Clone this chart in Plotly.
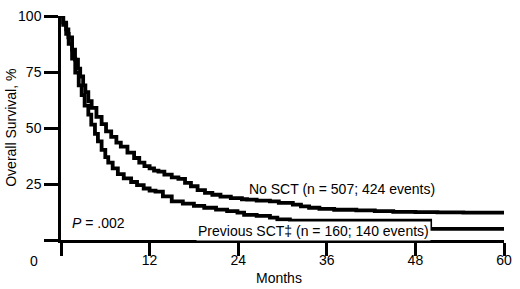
import plotly.graph_objects as go

# No SCT (n = 507)
no_sct_months = [0, 0.3, 0.7, 1.0, 1.5, 1.9, 2.3, 2.6, 3.0, 3.3, 3.7, 4.15, 4.8, 5.5, 6.1, 6.8, 7.5, 8.1,
                 9.0, 9.9, 10.6, 11.3, 12.0, 12.6, 13.2, 14.0, 15.0, 15.9, 16.8, 17.6, 18.5, 19.5, 20.5,
                 21.6, 23.0, 24.5, 25.2, 26.5, 28.3, 29.5, 31.4, 32.5, 33.6, 35.0, 37.0, 40.0, 42.5, 45.0,
                 48.0, 51.0, 54.5, 60.0]
no_sct_surv = [100, 97, 94, 90.5, 85, 80.5, 76.5, 73, 69, 66, 62, 59, 55, 51.7, 48.5, 46, 43.5, 41.7,
               39, 36.6, 34.5, 33, 32, 31, 30.5, 29.2, 28, 27.3, 25.5, 24, 22.3, 21, 20.2,
               19.4, 18.7, 18.2, 18, 17.6, 17.2, 16.6, 15.8, 15, 14.4, 13.9, 13.5, 13.2, 12.9, 12.6,
               12.4, 12.3, 12.2, 12.2]

# Previous SCT (n = 160)
prev_sct_months = [0, 0.3, 0.7, 1.04, 1.5, 1.93, 2.4, 2.8, 3.2, 3.7, 4.1, 4.6, 5.0, 5.5, 6.0, 6.4, 7.0,
                   7.7, 8.5, 9.5, 10.3, 11.2, 12.0, 12.8, 13.8, 15.0, 16.5, 18.0, 19.4, 21.0, 22.5, 23.9,
                   24.8, 26.5, 28.3, 29.3, 31.0, 50.0, 60.0]
prev_sct_surv = [100, 96, 92, 87.6, 81, 74.7, 69, 64.7, 60, 56, 51.5, 47.4, 44, 40.2, 37, 34.5, 32,
                 29.4, 27.5, 25.9, 24.5, 23, 22, 21.6, 19.5, 17.2, 16.2, 15.2, 14.4, 13.6, 12.9, 12.2,
                 11.2, 10.8, 10.0, 9.2, 8.6, 5.0, 5.0]

x_ticks = [0, 12, 24, 36, 48, 60]
x_tick_labels = ["", "12", "24", "36", "48", "60"]
y_ticks = [0, 25, 50, 75, 100]
y_tick_labels = ["", "25", "50", "75", "100"]

FONT = "Liberation Sans, Arial, sans-serif"

fig = go.Figure()
fig.add_trace(go.Scatter(x=no_sct_months, y=no_sct_surv, mode="lines",
                         line=dict(color="black", width=3.8, shape="hv"), showlegend=False))
fig.add_trace(go.Scatter(x=prev_sct_months, y=prev_sct_surv, mode="lines",
                         line=dict(color="black", width=3.8, shape="hv"), showlegend=False))

axis_common = dict(showgrid=False, zeroline=False, showline=True, linecolor="black", linewidth=2.5,
                   ticks="outside", tickcolor="black", tickwidth=2.5, ticklabeloverflow="allow",
                   tickfont=dict(family=FONT, size=14, color="black"))

fig.update_xaxes(range=[0, 60], tickvals=x_ticks, ticktext=x_tick_labels, ticklen=13,
                 ticklabelstandoff=-8, **axis_common)
fig.update_yaxes(range=[0, 100], tickvals=y_ticks, ticktext=y_tick_labels, ticklen=14, **axis_common)

ann_font = dict(family=FONT, size=14, color="black")
fig.add_annotation(x=25.2, y=22.8, xref="x", yref="y", text="No SCT (n = 507; 424 events)",
                   showarrow=False, xanchor="left", yanchor="middle", font=ann_font)
fig.add_annotation(x=18.3, y=3.9, xref="x", yref="y", text="Previous SCT‡ (n = 160; 140 events)",
                   showarrow=False, xanchor="left", yanchor="middle", font=ann_font, bgcolor="white")
fig.add_annotation(x=1.2, y=7.8, xref="x", yref="y", text="<i>P</i> = .002",
                   showarrow=False, xanchor="left", yanchor="middle", font=ann_font)
# paper coordinates: plot area spans x 61..511 px, y 8..240 px
fig.add_annotation(x=(34 - 61) / 450, y=(240 - 262) / 232, xref="paper", yref="paper", text="0",
                   showarrow=False, xanchor="center", yanchor="middle", font=ann_font)
fig.add_annotation(x=(282 - 61) / 450, y=(240 - 279) / 232, xref="paper", yref="paper", text="Months",
                   showarrow=False, xanchor="center", yanchor="middle", font=ann_font)
fig.add_annotation(x=(10 - 61) / 450, y=0.5, xref="paper", yref="paper", text="Overall Survival, %",
                   showarrow=False, textangle=-90, xanchor="center", yanchor="middle", font=ann_font)

fig.update_layout(width=520, height=289, margin=dict(l=61, r=9, t=8, b=49),
                  plot_bgcolor="white", paper_bgcolor="white")

fig.write_html("out.html", config={"displayModeBar": False},
               post_script="document.body.style.margin='0';")
